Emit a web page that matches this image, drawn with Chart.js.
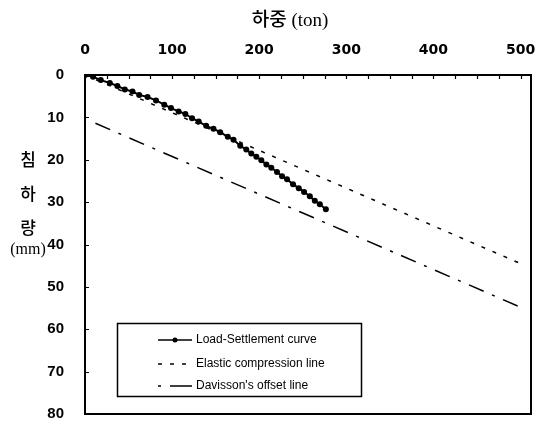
<!DOCTYPE html>
<html><head><meta charset="utf-8">
<script src="https://cdn.jsdelivr.net/npm/chart.js@4.4.0/dist/chart.umd.min.js"></script>
<style>html,body{margin:0;padding:0;background:#fff}#wrap{width:540px;height:421px}</style>
</head><body><div id="wrap"><canvas id="c" width="540" height="421"></canvas></div>
<script>
// ---- data ----
const loadTon = [0, 9.2, 18.1, 28.5, 37.2, 45.7, 54.5, 62.2, 71.8, 81.5, 91.0, 98.7, 107.5, 115.2, 122.9, 130.5, 139.1, 147.5, 155.2, 163.9, 170.5, 178.2, 185.1, 190.9, 196.7, 202.4, 208.2, 213.9, 220.4, 226.2, 231.9, 238.8, 245.4, 251.5, 258.1, 263.8, 269.6, 276.5];
const settlementMm = [0, 0.4, 1.2, 1.9, 2.6, 3.4, 3.9, 4.7, 5.2, 6.0, 7.0, 7.8, 8.6, 9.2, 10.2, 11.0, 12.0, 12.7, 13.5, 14.6, 15.3, 16.7, 17.6, 18.5, 19.3, 20.1, 21.1, 21.9, 22.9, 23.9, 24.6, 25.8, 26.7, 27.6, 28.6, 29.7, 30.5, 31.7];
const elasticTon = [0, 500];
const elasticMm = [0, 44.5];
const davissonTon = [12, 500];
const davissonMm = [11.4, 54.8];
const xTickLabels = [0, 100, 200, 300, 400, 500];
const yTickLabels = [0, 10, 20, 30, 40, 50, 60, 70, 80];
const xMinorStep = 25;
const seriesNames = ['Load-Settlement curve', 'Elastic compression line', "Davisson's offset line"];
const xTitle = '하중 (ton)';
const yTitleLines = ['침', '하', '량', '(mm)'];

const toPts = (xs, ys) => xs.map((v, i) => ({x: v, y: ys[i]}));

const decorPlugin = {
  id: 'decor',
  afterDraw(chart) {
    const {ctx, chartArea: a, scales: {x, y}} = chart;
    ctx.save();
    ctx.strokeStyle = '#000';
    ctx.fillStyle = '#000';
    // minor inward ticks
    ctx.lineWidth = 1.2;
    ctx.beginPath();
    for (let v = 0; v <= xTickLabels[xTickLabels.length - 1]; v += xMinorStep) {
      const px = Math.round(x.getPixelForValue(v)) + 0.5;
      ctx.moveTo(px, a.top); ctx.lineTo(px, a.top + 4);
    }
    yTickLabels.forEach(v => {
      const py = Math.round(y.getPixelForValue(v)) + 0.5;
      ctx.moveTo(a.left, py); ctx.lineTo(a.left + 4, py);
    });
    ctx.stroke();
    // frame
    ctx.lineWidth = 2;
    ctx.strokeRect(a.left, a.top, a.right - a.left, a.bottom - a.top);
    // titles
    ctx.textAlign = 'center';
    ctx.textBaseline = 'middle';
    ctx.font = '500 19px "Liberation Serif", "Noto Sans CJK KR"';
    ctx.fillText(xTitle, 290, 21);
    ctx.font = '500 17px "Noto Sans CJK KR"';
    ctx.fillText(yTitleLines[0], 28, 160);
    ctx.fillText(yTitleLines[1], 28, 194);
    ctx.fillText(yTitleLines[2], 28, 228);
    ctx.font = '16px "Liberation Serif"';
    ctx.fillText(yTitleLines[3], 28, 250);
    // legend
    const bx = 117, by = 323, bw = 244, bh = 73;
    ctx.fillStyle = '#fff';
    ctx.fillRect(bx, by, bw, bh);
    ctx.fillStyle = '#000';
    ctx.lineWidth = 1.5;
    ctx.strokeRect(bx + 0.5, by + 0.5, bw, bh);
    const rows = [340, 364, 386];
    const sx0 = 158, sx1 = 192;
    ctx.lineWidth = 1.5;
    ctx.setLineDash([]);
    ctx.beginPath(); ctx.moveTo(sx0, rows[0]); ctx.lineTo(sx1, rows[0]); ctx.stroke();
    ctx.beginPath(); ctx.arc((sx0 + sx1) / 2, rows[0], 2.5, 0, Math.PI * 2); ctx.fill();
    ctx.setLineDash([4, 8]);
    ctx.beginPath(); ctx.moveTo(sx0, rows[1]); ctx.lineTo(sx1, rows[1]); ctx.stroke();
    ctx.setLineDash([3, 9, 22, 0]);
    ctx.beginPath(); ctx.moveTo(sx0, rows[2]); ctx.lineTo(sx1, rows[2]); ctx.stroke();
    ctx.setLineDash([]);
    ctx.textAlign = 'left';
    ctx.font = '12px "Liberation Sans"';
    seriesNames.forEach((n, i) => ctx.fillText(n, 196, rows[i]));
    ctx.restore();
  }
};

new Chart(document.getElementById('c'), {
  type: 'scatter',
  data: {
    datasets: [
      {label: seriesNames[0], data: toPts(loadTon, settlementMm), showLine: true,
       borderColor: '#000', backgroundColor: '#000', borderWidth: 2,
       pointRadius: 3, pointBorderWidth: 0, pointBackgroundColor: '#000'},
      {label: seriesNames[1], data: toPts(elasticTon, elasticMm), showLine: true,
       borderColor: '#000', borderWidth: 1.5, borderDash: [4, 8], pointRadius: 0},
      {label: seriesNames[2], data: toPts(davissonTon, davissonMm), showLine: true,
       borderColor: '#000', borderWidth: 1.5, borderDash: [16, 9, 3, 9], pointRadius: 0}
    ]
  },
  options: {
    responsive: false,
    animation: false,
    devicePixelRatio: 1,
    layout: {padding: {left: 0, top: 0, right: 9, bottom: 7}},
    plugins: {legend: {display: false}, tooltip: {enabled: false}},
    scales: {
      x: {
        type: 'linear', position: 'top', min: 0, max: 512,
        afterBuildTicks: s => { s.ticks = xTickLabels.map(v => ({value: v})); },
        afterFit: s => { s.height = 75; s.paddingLeft = 0; s.paddingRight = 0; },
        grid: {display: false},
        border: {display: false},
        ticks: {color: '#000', padding: 8, font: {family: 'DejaVu Sans', size: 14, weight: 'bold'}}
      },
      y: {
        type: 'linear', reverse: true, min: 0, max: 80,
        afterBuildTicks: s => { s.ticks = yTickLabels.map(v => ({value: v})); },
        afterFit: s => { s.width = 85; s.paddingTop = 0; s.paddingBottom = 0; },
        grid: {display: false},
        border: {display: false},
        ticks: {color: '#000', padding: 13, font: {family: 'Liberation Sans', size: 15, weight: 'bold'}}
      }
    }
  },
  plugins: [decorPlugin]
});
</script></body></html>
